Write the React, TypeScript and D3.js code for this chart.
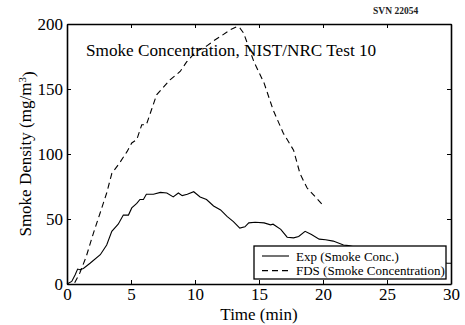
import React, { useEffect, useRef } from 'react'
import * as d3 from 'd3'

// Exp (Smoke Conc.) - time (min), density (mg/m3)
const expTime = [
  0, 0.37, 0.63, 0.83, 1.0, 1.28, 1.8, 2.6, 3.1, 3.5, 4.0, 4.4, 4.8, 5.06, 5.45, 5.7, 5.97, 6.2,
  6.75, 7.3, 7.8, 8.3, 8.7, 9.0, 9.4, 9.9, 10.4, 10.9, 11.45, 12.0, 12.5, 13.0, 13.5, 13.9, 14.2,
  14.7, 15.4, 15.9, 16.1, 16.7, 17.2, 17.7, 18.1, 18.6, 19.1, 19.7, 20.2, 20.8, 21.6, 22, 24, 26,
  28, 29.7, 30,
]
const expValue = [
  0, 2, 7, 11.5, 11, 12, 16, 22.5, 30, 40.5, 46, 53, 53, 58.5, 62, 65, 65, 69, 69, 70.5, 70, 67,
  70, 68, 69, 71, 67, 65, 60, 57, 52, 48, 43, 44, 47, 47.5, 47, 45.5, 46, 42, 36, 35.5, 36.5, 40.5,
  38, 34.5, 34, 33, 30, 29.5, 25, 22, 19, 16, 16,
]

// FDS (Smoke Concentration)
const fdsTime = [
  0.6, 1.0, 1.5, 2.06, 2.6, 3.1, 3.5, 4.1, 4.7, 5.06, 5.45, 5.84, 6.2, 6.6, 7.0, 7.5, 8.05, 8.84,
  9.36, 10.1, 10.9, 11.45, 12.0, 12.75, 13.3, 13.5, 13.8, 14.6, 15.4, 16.1, 16.9, 17.7, 18.2,
  18.75, 19.4, 20.05,
]
const fdsValue = [
  1, 8.5, 21, 39, 55, 70, 85, 93, 102, 108.5, 111, 122.5, 122.5, 134, 145.5, 151, 157, 163.5, 171,
  179, 183, 187, 190.5, 195.5, 198, 197, 193, 171, 154.5, 134, 116, 103, 85, 74, 67, 60,
]

const xTicks = [0, 5, 10, 15, 20, 25, 30]
const yTicks = [0, 50, 100, 150, 200]
const legendLabels = ['Exp (Smoke Conc.)', 'FDS (Smoke Concentration)']

const font = 'Liberation Serif'

const App = () => {
  const svgRef = useRef<SVGSVGElement>(null)

  useEffect(() => {
    if (!svgRef.current) return
    const w = 465
    const h = 325
    const margin = { top: 24, right: 14, bottom: 41, left: 67 }

    const x = d3.scaleLinear().domain([0, 30]).range([margin.left, w - margin.right])
    const y = d3.scaleLinear().domain([0, 200]).range([h - margin.bottom, margin.top])

    const svg = d3.select(svgRef.current)
    svg.selectAll('*').remove()
    svg.append('rect').attr('width', w).attr('height', h).attr('fill', '#fff')

    const expLine = d3
      .line<number>()
      .x((d, i) => x(expTime[i]))
      .y((d) => y(d))
    const fdsLine = d3
      .line<number>()
      .x((d, i) => x(fdsTime[i]))
      .y((d) => y(d))

    svg
      .append('path')
      .attr('fill', 'none')
      .attr('stroke', '#000')
      .attr('stroke-width', 1.1)
      .attr('d', expLine(expValue))

    svg
      .append('path')
      .attr('fill', 'none')
      .attr('stroke', '#000')
      .attr('stroke-width', 1.1)
      .attr('stroke-dasharray', '6,4')
      .attr('d', fdsLine(fdsValue))

    // axes: ticks inside, matlab style box
    const tk = 4
    const bottom = svg.append('g').attr('transform', `translate(0,${y(0)})`)
      .call(d3.axisBottom(x).tickValues(xTicks).tickSizeInner(-tk).tickSizeOuter(0).tickPadding(4))
    const top = svg.append('g').attr('transform', `translate(0,${y(200)})`)
      .call(d3.axisTop(x).tickValues(xTicks).tickSizeInner(-tk).tickSizeOuter(0).tickFormat(() => ''))
    const left = svg.append('g').attr('transform', `translate(${x(0)},0)`)
      .call(d3.axisLeft(y).tickValues(yTicks).tickSizeInner(-tk).tickSizeOuter(0).tickPadding(4))
    const right = svg.append('g').attr('transform', `translate(${x(30)},0)`)
      .call(d3.axisRight(y).tickValues(yTicks).tickSizeInner(-tk).tickSizeOuter(0).tickFormat(() => ''))
    for (const g of [bottom, top, left, right]) {
      g.attr('font-family', null).attr('font-size', null)
      g.select('.domain').attr('stroke-width', 1.6)
      g.selectAll('.tick line').attr('stroke-width', 1)
      g.selectAll('text').style('font-family', font).style('font-size', '17px').attr('fill', '#000')
    }
    bottom.selectAll('text').attr('dy', '0.72em')

    // legend
    const lx = 254
    const ly = 246
    const lg = svg.append('g')
    lg.append('rect')
      .attr('x', lx)
      .attr('y', ly)
      .attr('width', 192)
      .attr('height', 33)
      .attr('fill', '#fff')
      .attr('stroke', '#000')
      .attr('stroke-width', 1.3)
    legendLabels.forEach((label, i) => {
      const cy = ly + 10 + i * 14.6
      lg.append('line')
        .attr('x1', lx + 8)
        .attr('x2', lx + 35)
        .attr('y1', cy)
        .attr('y2', cy)
        .attr('stroke', '#000')
        .attr('stroke-width', 1.1)
        .attr('stroke-dasharray', i === 1 ? '6,4' : null)
      lg.append('text')
        .attr('x', lx + 42)
        .attr('y', cy)
        .attr('dy', '0.35em')
        .style('font-family', font)
        .style('font-size', '13px')
        .text(label)
    })

    svg.append('text')
      .attr('x', 86)
      .attr('y', 56)
      .style('font-family', font)
      .style('font-size', '17.2px')
      .text('Smoke Concentration, NIST/NRC Test 10')

    svg.append('text')
      .attr('x', 373)
      .attr('y', 14)
      .style('font-family', font)
      .style('font-size', '9.5px')
      .attr('font-weight', 'bold')
      .attr('fill', '#222')
      .text('SVN 22054')

    svg.append('text')
      .attr('x', (x(0) + x(30)) / 2)
      .attr('y', 320)
      .attr('text-anchor', 'middle')
      .style('font-family', font)
      .style('font-size', '17px')
      .text('Time (min)')

    const yl = svg.append('text')
      .attr('transform', `translate(31,${(y(0) + y(200)) / 2}) rotate(-90)`)
      .attr('text-anchor', 'middle')
      .style('font-family', font)
      .style('font-size', '17px')
    yl.append('tspan').text('Smoke Density (mg/m')
    yl.append('tspan').attr('dy', '-0.45em').style('font-size', '11px').text('3')
    yl.append('tspan').attr('dy', '0.45em').text(')')
  }, [])

  return (
    <svg
      ref={svgRef}
      width={465}
      height={325}
      viewBox="0 0 465 325"
      style={{ position: 'absolute', left: 0, top: 0 }}
    />
  )
}

export default App
